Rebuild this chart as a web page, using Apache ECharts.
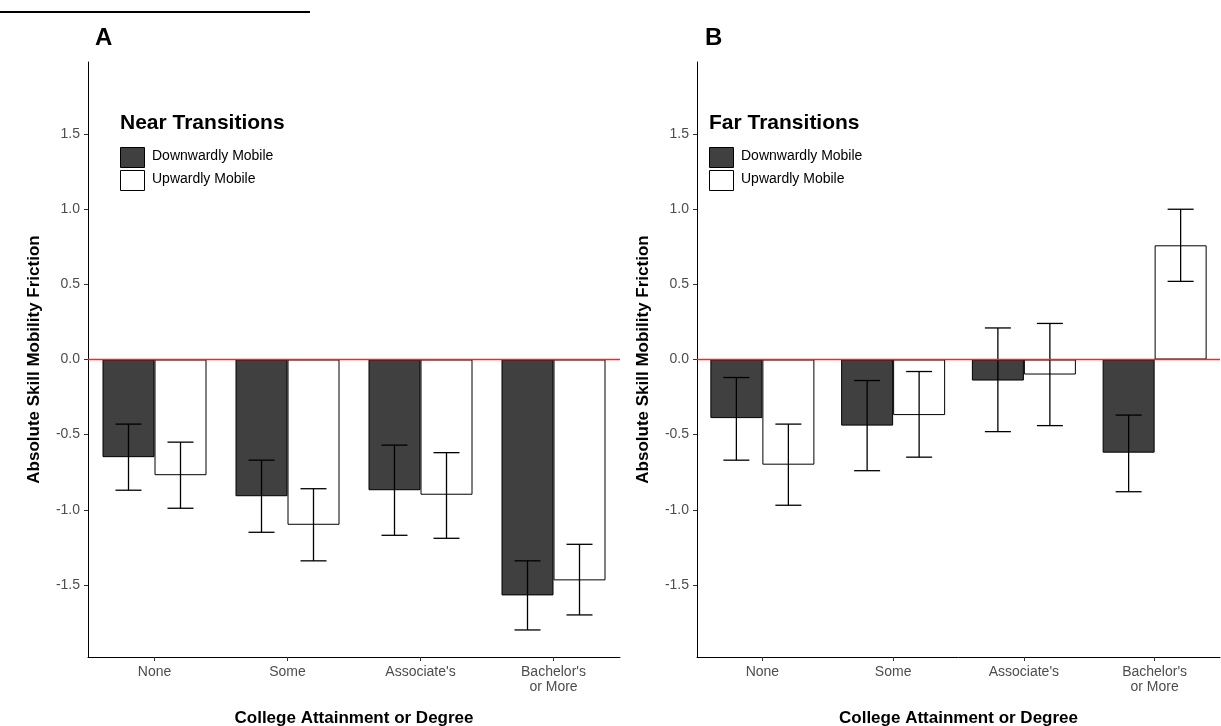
<!DOCTYPE html>
<html><head><meta charset="utf-8">
<script src="https://cdn.jsdelivr.net/npm/echarts@6/dist/echarts.min.js"></script>
<style>html,body{margin:0;padding:0;background:#fff}#c{width:1221px;height:726px}</style>
</head><body><div id="c"></div>
<script>
var categories = ["None", "Some", "Associate's", "Bachelor's\nor More"];
var nearDown = [-0.65, -0.91, -0.87, -1.57];
var nearDownLo = [-0.87, -1.15, -1.17, -1.80];
var nearDownHi = [-0.43, -0.67, -0.57, -1.34];
var nearUp = [-0.77, -1.10, -0.90, -1.47];
var nearUpLo = [-0.99, -1.34, -1.19, -1.70];
var nearUpHi = [-0.55, -0.86, -0.62, -1.23];
var farDown = [-0.39, -0.44, -0.14, -0.62];
var farDownLo = [-0.67, -0.74, -0.48, -0.88];
var farDownHi = [-0.12, -0.14, 0.21, -0.37];
var farUp = [-0.70, -0.37, -0.10, 0.76];
var farUpLo = [-0.97, -0.65, -0.44, 0.52];
var farUpHi = [-0.43, -0.08, 0.24, 1.00];
var yTicks = [-1.5, -1.0, -0.5, 0.0, 0.5, 1.0, 1.5];
var refLine = [0];

var font = "Liberation Sans, Arial, sans-serif";
var BW = 52;
function errSeries(xi, yi, lo, hi, offset) {
  return {
    type: 'custom', xAxisIndex: xi, yAxisIndex: yi, z: 10,
    data: lo.map(function (v, i) { return [i, v, hi[i]]; }),
    renderItem: function (params, api) {
      var a = api.coord([api.value(0), api.value(1)]);
      var b = api.coord([api.value(0), api.value(2)]);
      var x = a[0] + offset, w = 13;
      var st = { stroke: '#000', lineWidth: 1.3 };
      return { type: 'group', children: [
        { type: 'line', shape: { x1: x, y1: a[1], x2: x, y2: b[1] }, style: st },
        { type: 'line', shape: { x1: x - w, y1: a[1], x2: x + w, y2: a[1] }, style: st },
        { type: 'line', shape: { x1: x - w, y1: b[1], x2: x + w, y2: b[1] }, style: st }
      ] };
    }
  };
}
function zeroLine(xi, yi) {
  return { type: 'custom', xAxisIndex: xi, yAxisIndex: yi, z: 100, clip: false,
    data: refLine.map(function (v) { return [0, v]; }),
    renderItem: function (params, api) {
      var cs = params.coordSys;
      var y = api.coord([0, api.value(1)])[1];
      return { type: 'line', z2: 100, shape: { x1: cs.x, y1: y, x2: cs.x + cs.width, y2: y },
        style: { stroke: '#ff2020', lineWidth: 1.3, fill: null } };
    } };
}
function bar(xi, yi, data, color, name) {
  return { type: 'bar', name: name, xAxisIndex: xi, yAxisIndex: yi, data: data, barWidth: BW, barGap: '0%',
    itemStyle: { color: color, borderColor: '#000', borderWidth: 1 } };
}
function xAx(gi) {
  return { type: 'category', gridIndex: gi, data: categories,
    axisLine: { show: true, onZero: false, lineStyle: { color: '#000' } },
    axisTick: { show: true, alignWithLabel: true, length: 4, lineStyle: { color: '#333' } },
    axisLabel: { color: '#4d4d4d', fontSize: 14, fontFamily: font, margin: 8, lineHeight: 15 },
    name: 'College Attainment or Degree', nameLocation: 'middle', nameGap: 53,
    nameTextStyle: { fontSize: 17, fontWeight: 'bold', color: '#000', fontFamily: font } };
}
function yAx(gi) {
  return { type: 'value', gridIndex: gi, min: -1.98, max: 1.98, interval: 0.5,
    splitLine: { show: false }, axisLine: { show: true, lineStyle: { color: '#000' } },
    axisTick: { show: true, length: 4, lineStyle: { color: '#333' },
      customValues: yTicks },
    axisLabel: { color: '#4d4d4d', fontSize: 14, fontFamily: font, customValues: yTicks,
      formatter: function (v) { return v.toFixed(1); } },
    name: 'Absolute Skill Mobility Friction', nameLocation: 'middle', nameGap: 45,
    nameTextStyle: { fontSize: 17, fontWeight: 'bold', color: '#000', fontFamily: font } };
}
function legend(x, title) {
  return [
    { type: 'text', left: x, top: 113, style: { text: title, font: 'bold 21px ' + font, fill: '#000' } },
    { type: 'rect', left: x, top: 147, shape: { width: 24, height: 20 }, style: { fill: '#404040', stroke: '#000' } },
    { type: 'text', left: x + 32, top: 149, style: { text: 'Downwardly Mobile', font: '14px ' + font, fill: '#000' } },
    { type: 'rect', left: x, top: 170, shape: { width: 24, height: 20 }, style: { fill: '#fff', stroke: '#000' } },
    { type: 'text', left: x + 32, top: 172, style: { text: 'Upwardly Mobile', font: '14px ' + font, fill: '#000' } }
  ];
}
var chart = echarts.init(document.getElementById('c'));
chart.setOption({
  animation: false,
  grid: [{ left: 88, top: 62, width: 532, height: 595, outerBoundsMode: 'none' },
         { left: 697, top: 62, width: 523, height: 595, outerBoundsMode: 'none' }],
  xAxis: [xAx(0), xAx(1)],
  yAxis: [yAx(0), yAx(1)],
  graphic: [
    { type: 'rect', left: 0, top: 11, shape: { width: 310, height: 2 }, style: { fill: '#000' } },
    { type: 'text', left: 95, top: 26, style: { text: 'A', font: 'bold 24px ' + font, fill: '#000' } },
    { type: 'text', left: 705, top: 26, style: { text: 'B', font: 'bold 24px ' + font, fill: '#000' } }
  ].concat(legend(120, 'Near Transitions')).concat(legend(709, 'Far Transitions')),
  series: [
    bar(0, 0, nearDown, '#404040', 'Downwardly Mobile'),
    bar(0, 0, nearUp, '#ffffff', 'Upwardly Mobile'),
    bar(1, 1, farDown, '#404040', 'Downwardly Mobile'),
    bar(1, 1, farUp, '#ffffff', 'Upwardly Mobile'),
    errSeries(0, 0, nearDownLo, nearDownHi, -BW / 2),
    errSeries(0, 0, nearUpLo, nearUpHi, BW / 2),
    errSeries(1, 1, farDownLo, farDownHi, -BW / 2),
    errSeries(1, 1, farUpLo, farUpHi, BW / 2),
    zeroLine(0, 0), zeroLine(1, 1)
  ]
});
</script></body></html>
